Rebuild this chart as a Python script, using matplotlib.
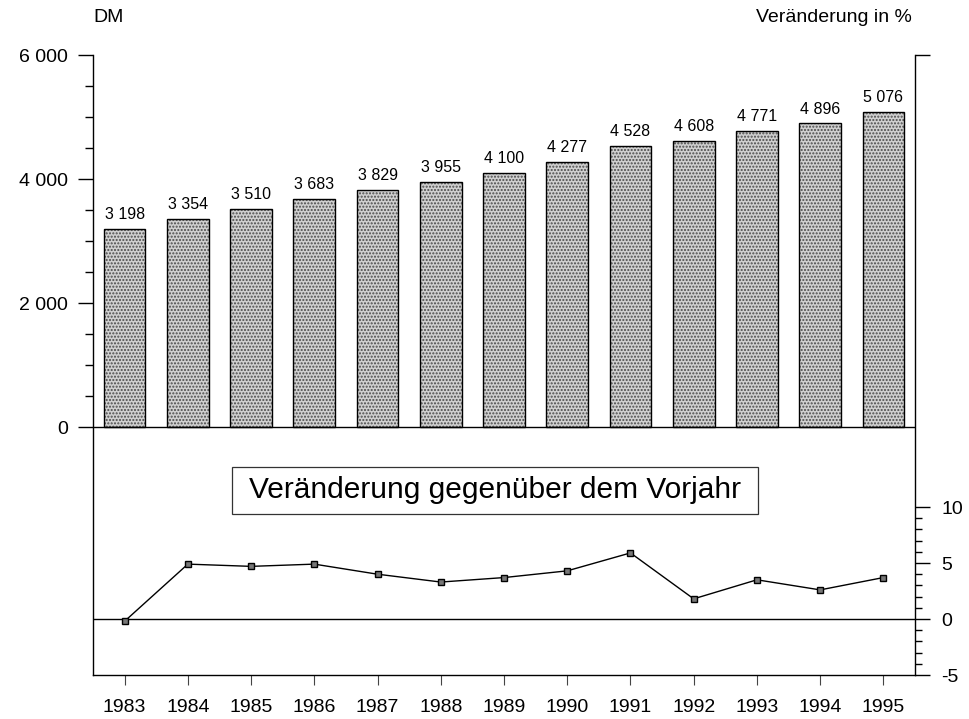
import matplotlib
matplotlib.use("Agg")
import matplotlib.pyplot as plt
from matplotlib.ticker import FixedLocator
from matplotlib.patches import Rectangle

plt.rcParams['font.family'] = ['Liberation Sans', 'DejaVu Sans']

years = [1983, 1984, 1985, 1986, 1987, 1988, 1989, 1990, 1991, 1992, 1993, 1994, 1995]
dm_values = [3198, 3354, 3510, 3683, 3829, 3955, 4100, 4277, 4528, 4608, 4771, 4896, 5076]
dm_labels = ["3 198", "3 354", "3 510", "3 683", "3 829", "3 955", "4 100",
             "4 277", "4 528", "4 608", "4 771", "4 896", "5 076"]
pct_change = [-0.2, 4.9, 4.7, 4.9, 4.0, 3.3, 3.7, 4.3, 5.9, 1.8, 3.5, 2.6, 3.7]
left_ticks = [0, 2000, 4000, 6000]
left_ticklabels = ["0", "2 000", "4 000", "6 000"]
right_ticks = [-5, 0, 5, 10]
right_ticklabels = ["-5", "0", "5", "10"]

fig = plt.figure(figsize=(9.7, 7.19), dpi=100)
ax = fig.add_axes([93/970, 44/719, 822/970, 620/719])
ax.set_xlim(1982.5, 1995.5)
ax.set_ylim(-4000, 6000)

# bars: stippled fill then outline
ax.bar(years, dm_values, width=0.66, facecolor='#d0d0d0', edgecolor='#4a4a4a',
       hatch='.....', linewidth=0, zorder=2)
ax.bar(years, dm_values, width=0.66, facecolor='none', edgecolor='black',
       linewidth=1.0, zorder=3)
for x, v, lab in zip(years, dm_values, dm_labels):
    ax.annotate(lab, (x, v), xytext=(0, 5), textcoords='offset points',
                ha='center', va='bottom', fontsize=11.5)

ax.axhline(0, color='black', lw=1.0, zorder=4)

ax.spines['top'].set_visible(False)
ax.spines['right'].set_visible(False)
ax.spines['left'].set_linewidth(1.0)
ax.spines['bottom'].set_linewidth(1.0)

ax.yaxis.set_major_locator(FixedLocator(left_ticks))
ax.set_yticklabels(left_ticklabels, fontsize=14)
ax.yaxis.set_minor_locator(FixedLocator([500, 1000, 1500, 2500, 3000, 3500,
                                         4500, 5000, 5500]))
ax.tick_params(axis='y', which='major', direction='out', length=11, width=1, pad=7)
ax.tick_params(axis='y', which='minor', direction='out', length=5.5, width=1)

ax.set_xticks(years)
ax.set_xticklabels([str(y) for y in years], fontsize=14)
ax.tick_params(axis='x', which='major', direction='out', length=7, width=0.8,
               color='#444444', pad=10)

ax2 = ax.twinx()
top_pct = 50.36
ax2.set_ylim(-5, top_pct)
ax2.plot(years, pct_change, color='black', lw=1.0, marker='s', markersize=4.5,
         markerfacecolor='#777777', markeredgecolor='black', markeredgewidth=1.0,
         zorder=5)
ax2.axhline(0, color='black', lw=1.0)
for s in ['top', 'left', 'bottom']:
    ax2.spines[s].set_visible(False)
ax2.spines['right'].set_linewidth(1.0)
ax2.yaxis.set_major_locator(FixedLocator(right_ticks + [top_pct]))
ax2.set_yticklabels(right_ticklabels + [""], fontsize=14)
ax2.yaxis.set_minor_locator(FixedLocator([-4, -3, -2, -1, 1, 2, 3, 4, 6, 7, 8, 9]))
ax2.tick_params(axis='y', which='major', direction='out', length=11, width=1, pad=8)
ax2.tick_params(axis='y', which='minor', direction='out', length=5, width=1)

box_x0, box_x1 = (232 - 93) / 822, (758 - 93) / 822
box_y0, box_y1 = (675 - 514) / 620, (675 - 467) / 620
ax.add_patch(Rectangle((box_x0, box_y0), box_x1 - box_x0, box_y1 - box_y0,
                       transform=ax.transAxes, facecolor='white', edgecolor='#333333',
                       linewidth=0.9, zorder=6))
ax.text((box_x0 + box_x1) / 2, (box_y0 + box_y1) / 2, "Veränderung gegenüber dem Vorjahr",
        transform=ax.transAxes, ha='center', va='center', fontsize=21.5, zorder=7)

fig.text(93/970, 1 - 18/719, "DM", ha='left', va='center', fontsize=14)
fig.text(912/970, 1 - 18/719, "Veränderung in %", ha='right', va='center', fontsize=14)

fig.savefig("out.png", dpi=100)
